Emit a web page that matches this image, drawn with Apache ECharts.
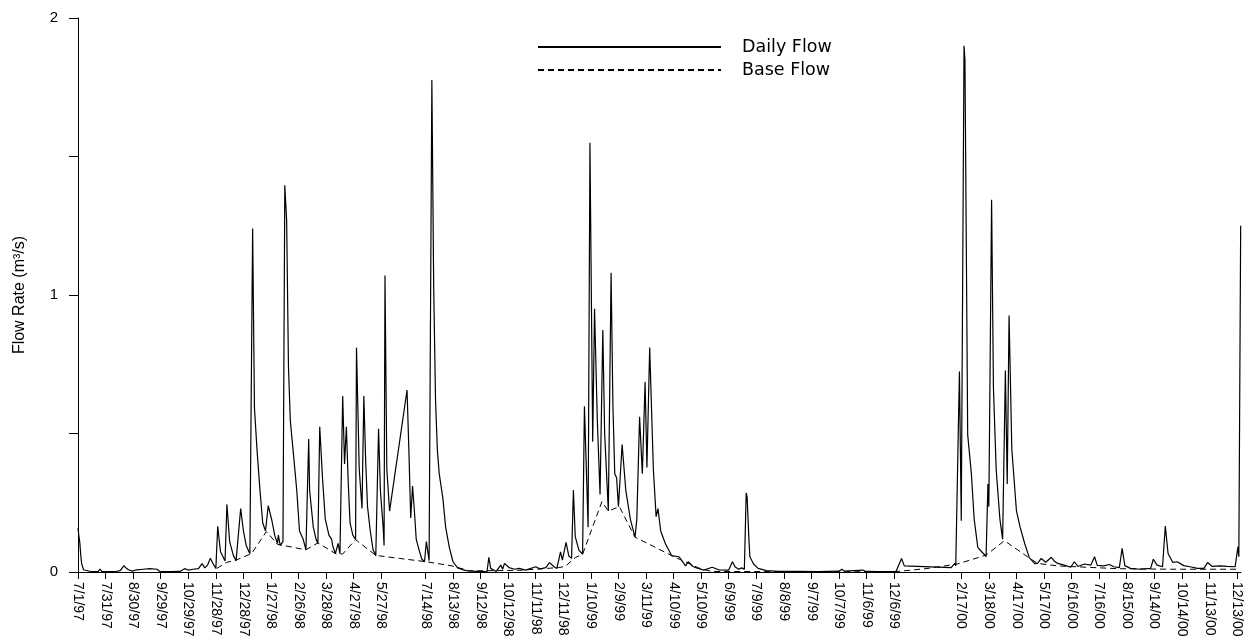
<!DOCTYPE html>
<html>
<head>
<meta charset="utf-8">
<script src="https://cdn.jsdelivr.net/npm/echarts@6/dist/echarts.min.js"></script>
<style>
  html, body { margin: 0; padding: 0; background: #ffffff; }
  #chart { width: 1244px; height: 640px; }
</style>
</head>
<body>
<div id="chart"></div>
<script>
// Tick labels on the date axis (m/d/yy)
var tickLabels = ["7/1/97","7/31/97","8/30/97","9/29/97","10/29/97","11/28/97","12/28/97","1/27/98","2/26/98","3/28/98","4/27/98","5/27/98","7/14/98","8/13/98","9/12/98","10/12/98","11/11/98","12/11/98","1/10/99","2/9/99","3/11/99","4/10/99","5/10/99","6/9/99","7/9/99","8/8/99","9/7/99","10/7/99","11/6/99","12/6/99","2/17/00","3/18/00","4/17/00","5/17/00","6/16/00","7/16/00","8/15/00","9/14/00","10/14/00","11/13/00","12/13/00"];

// Daily flow: days since 7/1/97 and flow rate (m3/s)
var dailyDays = [0,1,2,3,4,6,8,15,22,24,26,40,46,50,52,55,59,64,71,78,86,89,100,111,116,120,125,131,135,138,141,144,147,150,
  152,155,160,162,165,169,172,177,180,183,187,190,192,195,198,201,204,207,211,214,217,218,220,223,225,227,229,231,234,238,241,245,248,
  251,252,256,259,261,263,266,269,273,276,277,280,283,285,288,290,292,294,296,299,302,303,305,306,309,311,313,315,318,321,324,
  327,329,332,333,334,336,339,358,360,362,364,366,368,371,374,377,379,382,385,387,389,391,393,397,400,404,408,413,
  422,437,445,447,449,455,460,462,464,469,475,480,487,498,503,509,513,518,521,525,527,531,534,537,539,541,545,549,
  551,555,557,560,562,565,568,571,573,577,580,582,584,586,588,592,596,601,606,608,611,614,617,619,622,626,629,631,634,639,646,654,
  661,664,669,673,681,690,697,708,712,715,719,722,725,727,728,730,731,735,740,749,762,784,805,828,831,834,854,857,871,890,896,899,
  950,954,955,959,961,964,965,968,972,975,979,983,985,988,990,991,994,996,999,1003,1006,1009,1011,1013,1016,1021,1025,1030,1035,1041,
  1044,1048,1053,1059,1062,1066,1073,1080,1084,1088,1095,1102,1106,1109,1116,1122,1127,1133,1136,1139,1145,1156,1167,1170,1174,1180,
  1183,1186,1191,1196,1203,1210,1218,1225,1229,1234,1243,1250,1259,1262,1263,1265];
var dailyFlow = [0.158,0.13,0.105,0.06,0.03,0.008,0.003,0.001,0.002,0.01,0.001,0.001,0.005,0.023,0.015,0.008,0.003,0.008,0.01,0.012,0.01,0.002,0.001,0.002,0.012,0.007,0.01,0.012,0.03,0.015,0.025,0.05,0.03,0.013,
  0.165,0.074,0.04,0.244,0.11,0.06,0.041,0.229,0.148,0.096,0.066,1.24,0.59,0.43,0.295,0.177,0.148,0.24,0.185,0.133,0.103,0.133,0.096,0.11,1.396,1.27,0.74,0.547,0.44,0.295,0.148,0.118,0.08,
  0.48,0.295,0.162,0.118,0.103,0.524,0.34,0.192,0.133,0.118,0.096,0.066,0.103,0.066,0.635,0.39,0.524,0.325,0.177,0.133,0.118,0.81,0.81,0.37,0.229,0.635,0.4,0.236,0.148,0.081,0.059,
  0.517,0.295,0.162,0.096,1.07,0.37,0.22,0.657,0.44,0.195,0.31,0.22,0.118,0.081,0.047,0.037,0.11,0.041,1.776,1.03,0.62,0.44,0.355,0.266,0.162,0.089,0.037,0.015,
  0.005,0.001,0.001,0.053,0.013,0.002,0.025,0.01,0.031,0.016,0.01,0.013,0.007,0.019,0.011,0.016,0.034,0.019,0.013,0.073,0.043,0.107,0.058,0.049,0.296,0.128,0.079,0.064,
  0.598,0.162,1.55,0.47,0.95,0.55,0.28,0.874,0.5,0.22,1.08,0.6,0.355,0.34,0.236,0.46,0.295,0.19,0.126,0.19,0.56,0.355,0.687,0.377,0.81,0.37,0.2,0.229,0.148,0.103,0.059,0.055,
  0.022,0.037,0.02,0.015,0.007,0.017,0.008,0.007,0.037,0.018,0.01,0.015,0.01,0.286,0.27,0.116,0.055,0.029,0.013,0.005,0.002,0.002,0.001,0.003,0.01,0.003,0.007,0.002,0.001,0.002,0.049,0.022,
  0.016,0.031,0.022,0.724,0.185,1.9,1.85,0.495,0.355,0.192,0.089,0.074,0.08,0.056,0.318,0.236,1.344,0.665,0.37,0.192,0.118,0.727,0.318,0.926,0.443,0.222,0.162,0.103,0.052,0.03,
  0.031,0.049,0.035,0.053,0.04,0.031,0.025,0.017,0.037,0.02,0.029,0.025,0.055,0.024,0.022,0.027,0.019,0.016,0.085,0.023,0.013,0.01,0.013,0.046,0.025,0.019,
  0.166,0.067,0.035,0.037,0.023,0.019,0.013,0.013,0.034,0.02,0.022,0.02,0.019,0.091,0.055,1.25];

// Base flow: days since 7/1/97 and flow rate (m3/s)
var baseDays = [151,162,172,189,205,217,248,261,281,288,302,324,350,379,407,426,480,523,530,541,549,570,577,589,606,646,675,689,784,889,925,957,988,1008,1033,1044,1066,1131,1190,1261];
var baseFlow = [0.013,0.035,0.043,0.067,0.146,0.10,0.08,0.105,0.065,0.065,0.117,0.06,0.049,0.037,0.022,0.004,0.006,0.016,0.02,0.052,0.064,0.254,0.22,0.236,0.126,0.059,0.015,0.002,0.001,0.001,0.013,0.029,0.061,0.113,0.055,0.031,0.022,0.012,0.01,0.01];

var seriesNames = ["Daily Flow", "Base Flow"];
var yAxisTitle = "Flow Rate (m\u00B3/s)";

// ---- build ----
function parseDay(s) {
  var p = s.split('/');
  var y = parseInt(p[2], 10);
  y = y < 50 ? 2000 + y : 1900 + y;
  var t = Date.UTC(y, parseInt(p[0], 10) - 1, parseInt(p[1], 10));
  return Math.round((t - Date.UTC(1997, 6, 1)) / 86400000);
}
var tickDays = tickLabels.map(parseDay);
var labelByDay = {};
tickDays.forEach(function (d, i) { labelByDay[d] = tickLabels[i]; });

var dailyData = dailyDays.map(function (d, i) { return [d, dailyFlow[i]]; });
var baseData = baseDays.map(function (d, i) { return [d, baseFlow[i]]; });

var chart = echarts.init(document.getElementById('chart'), null, { renderer: 'canvas' });
chart.setOption({
  animation: false,
  backgroundColor: '#ffffff',
  grid: { left: 78, right: 0, top: 18, bottom: 68, containLabel: false },
  legend: {
    orient: 'vertical',
    left: 537,
    top: 38,
    padding: 0,
    itemWidth: 183,
    itemHeight: 14,
    itemGap: 5,
    data: seriesNames,
    itemStyle: { opacity: 0 },
    textStyle: { fontFamily: 'DejaVu Sans', fontSize: 17.5, color: '#000', padding: [0, 0, 0, 16] }
  },
  xAxis: {
    type: 'value',
    min: 0,
    max: 1265.3,
    axisLine: { show: true, lineStyle: { color: '#000', width: 1 } },
    axisTick: { show: true, length: 7, lineStyle: { color: '#000' }, customValues: tickDays },
    axisLabel: {
      customValues: tickDays,
      rotate: -90,
      margin: 10,
      fontFamily: 'Liberation Sans, Arial',
      fontSize: 14,
      color: '#000',
      formatter: function (v) { return labelByDay[Math.round(v)] || ''; }
    },
    splitLine: { show: false }
  },
  yAxis: {
    type: 'value',
    min: 0,
    max: 2,
    interval: 0.5,
    name: yAxisTitle,
    nameLocation: 'middle',
    nameRotate: 90,
    nameGap: 50,
    nameTextStyle: { fontFamily: 'Liberation Sans, Arial', fontSize: 16, color: '#000' },
    axisLine: { show: true, lineStyle: { color: '#000', width: 1 } },
    axisTick: { show: true, length: 9, lineStyle: { color: '#000' } },
    axisLabel: {
      margin: 20,
      fontFamily: 'Liberation Sans, Arial',
      fontSize: 15,
      color: '#000',
      formatter: function (v) { return (Math.abs(v - Math.round(v)) < 1e-9) ? String(Math.round(v)) : ''; }
    },
    splitLine: { show: false }
  },
  series: [
    {
      name: seriesNames[0],
      type: 'line',
      data: dailyData,
      symbol: 'none',
      lineStyle: { color: '#000', width: 1.2 },
      itemStyle: { color: '#000' },
      z: 3
    },
    {
      name: seriesNames[1],
      type: 'line',
      data: baseData,
      symbol: 'none',
      lineStyle: { color: '#000', width: 1, type: [6, 4] },
      itemStyle: { color: '#000' },
      z: 2
    }
  ]
});
</script>
</body>
</html>
